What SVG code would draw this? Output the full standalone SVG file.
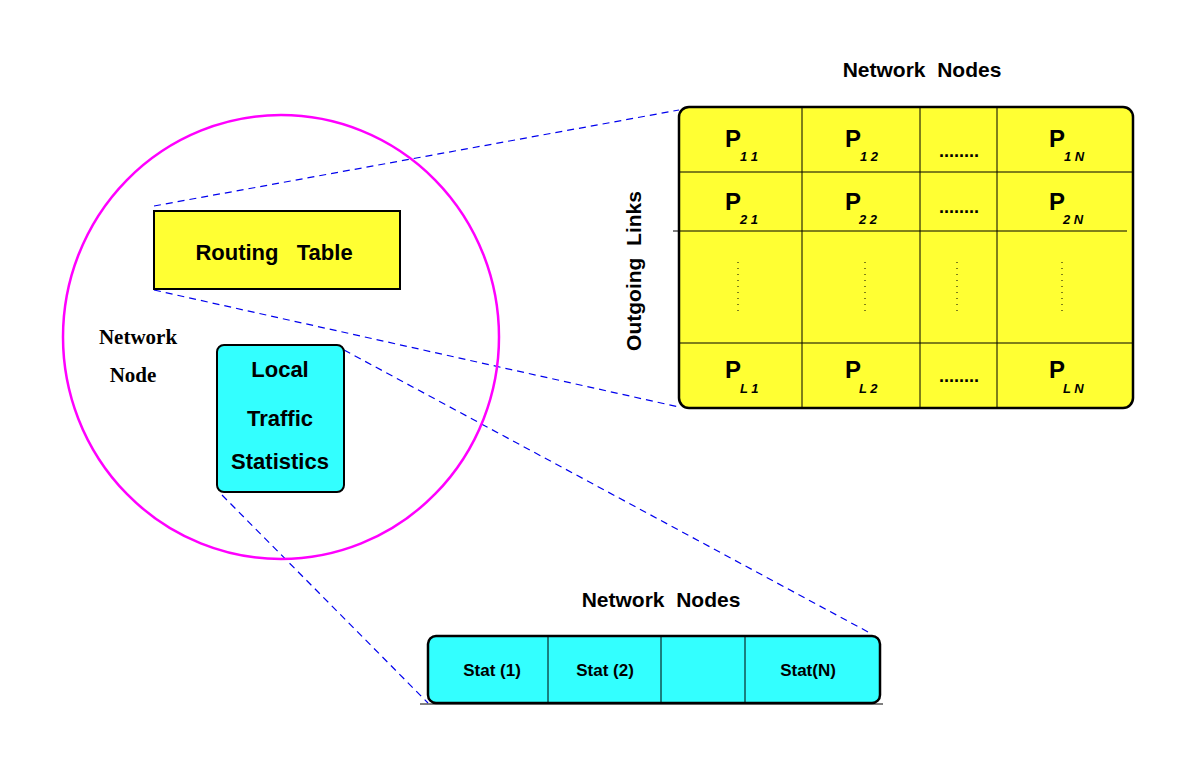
<svg xmlns="http://www.w3.org/2000/svg" width="1194" height="765" viewBox="0 0 1194 765">
<style>
.b{font-family:"Liberation Sans",Arial,sans-serif;font-weight:bold;fill:#000}
.s{font-family:"Liberation Serif","Times New Roman",serif;font-weight:bold;font-size:21px}
.P{font-size:24px}
.sub{font-size:13px;font-style:italic}
.g{stroke:#000;stroke-width:1;fill:none}
.d{stroke:#0000ee;stroke-width:1.2;stroke-dasharray:7,5;fill:none}
.v{stroke:#000;stroke-width:1;stroke-dasharray:1,5}
</style>
<rect width="1194" height="765" fill="#fff"/>
<g id="connectors">
<line class="d" x1="154" y1="206" x2="679" y2="110"/>
<line class="d" x1="154" y1="290" x2="679" y2="407"/>
<line class="d" x1="344" y1="350" x2="870" y2="633"/>
<line class="d" x1="222" y1="495" x2="428" y2="703"/>
</g>
<g id="network-node">
<ellipse cx="281" cy="337" rx="218" ry="222" fill="none" stroke="#ff00ff" stroke-width="2.5"/>
<text class="s" x="138" y="344" text-anchor="middle">Network</text>
<text class="s" x="133" y="382" text-anchor="middle">Node</text>
</g>
<g id="routing-table">
<rect x="154" y="211" width="246" height="78" fill="#ffff33" stroke="#000" stroke-width="2"/>
<text class="b" x="274" y="260" font-size="22" text-anchor="middle" xml:space="preserve">Routing   Table</text>
</g>
<g id="local-traffic">
<rect x="217" y="345" width="127" height="147" rx="7" fill="#33ffff" stroke="#000" stroke-width="2"/>
<text class="b" x="280" y="377" font-size="22" text-anchor="middle">Local</text>
<text class="b" x="280" y="426" font-size="22" text-anchor="middle">Traffic</text>
<text class="b" x="280" y="469" font-size="22" text-anchor="middle">Statistics</text>
</g>
<g id="matrix">
<text class="b" x="922" y="77" font-size="21" text-anchor="middle" xml:space="preserve">Network  Nodes</text>
<text class="b" x="0" y="0" font-size="21" text-anchor="middle" transform="translate(641 271) rotate(-90)" xml:space="preserve">Outgoing  Links</text>
<rect x="679" y="107" width="454" height="301" rx="10" fill="#ffff33" stroke="#000" stroke-width="2.5"/>
<line class="g" x1="802" y1="108" x2="802" y2="407"/>
<line class="g" x1="920" y1="108" x2="920" y2="407"/>
<line class="g" x1="997" y1="108" x2="997" y2="407"/>
<line class="g" x1="680" y1="172" x2="1132" y2="172"/>
<line class="g" x1="673" y1="231" x2="1127" y2="231"/>
<line class="g" x1="680" y1="343" x2="1132" y2="343"/>
<line class="v" x1="738" y1="262" x2="738" y2="312"/>
<line class="v" x1="865" y1="262" x2="865" y2="312"/>
<line class="v" x1="957" y1="262" x2="957" y2="312"/>
<line class="v" x1="1062" y1="262" x2="1062" y2="312"/>
<g class="b">
<text x="725" y="147" class="P">P</text><text x="740" y="161" class="sub" xml:space="preserve">1 1</text>
<text x="845" y="147" class="P">P</text><text x="860" y="161" class="sub" xml:space="preserve">1 2</text>
<text x="1049" y="147" class="P">P</text><text x="1064" y="161" class="sub" xml:space="preserve">1 N</text>
<text x="725" y="210" class="P">P</text><text x="740" y="224" class="sub" xml:space="preserve">2 1</text>
<text x="845" y="210" class="P">P</text><text x="859" y="224" class="sub" xml:space="preserve">2 2</text>
<text x="1049" y="210" class="P">P</text><text x="1063" y="224" class="sub" xml:space="preserve">2 N</text>
<text x="725" y="378" class="P">P</text><text x="740" y="393" class="sub" xml:space="preserve">L 1</text>
<text x="845" y="378" class="P">P</text><text x="859" y="393" class="sub" xml:space="preserve">L 2</text>
<text x="1049" y="378" class="P">P</text><text x="1063" y="393" class="sub" xml:space="preserve">L N</text>
<text x="959" y="157" font-size="18" text-anchor="middle">........</text>
<text x="959" y="213" font-size="18" text-anchor="middle">........</text>
<text x="959" y="382" font-size="18" text-anchor="middle">........</text>
</g>
</g>
<g id="stats">
<text class="b" x="661" y="607" font-size="21" text-anchor="middle" xml:space="preserve">Network  Nodes</text>
<rect x="428" y="636" width="452" height="67" rx="8" fill="#33ffff" stroke="#000" stroke-width="2.5"/>
<line class="g" x1="548" y1="637" x2="548" y2="702"/>
<line class="g" x1="661" y1="637" x2="661" y2="702"/>
<line class="g" x1="745" y1="637" x2="745" y2="702"/>
<line class="g" x1="420" y1="704" x2="883" y2="704"/>
<text class="b" x="492" y="676" font-size="17" text-anchor="middle">Stat (1)</text>
<text class="b" x="605" y="676" font-size="17" text-anchor="middle">Stat (2)</text>
<text class="b" x="808" y="676" font-size="17" text-anchor="middle">Stat(N)</text>
</g>
</svg>
